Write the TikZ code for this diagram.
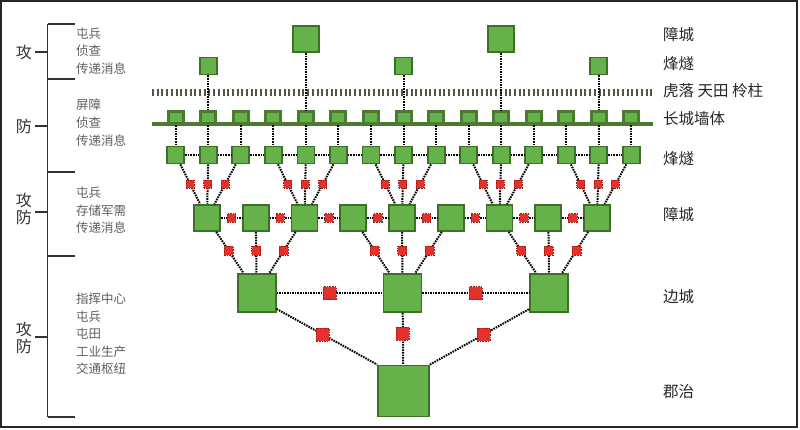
\documentclass[tikz,border=0pt]{standalone}
\usepackage{fontspec}
\setmainfont{Noto Sans CJK SC}
\definecolor{gfill}{HTML}{66B24A}
\definecolor{gborder}{HTML}{3F7029}
\definecolor{rfill}{HTML}{E5312B}
\definecolor{rborder}{HTML}{9E1A16}
\definecolor{wallc}{HTML}{4B7A30}
\definecolor{hlc}{HTML}{4F5746}
\definecolor{lefttext}{HTML}{5E5E5E}
\tikzset{
  gsq/.style={draw=gborder, fill=gfill, line width=1.8pt, minimum size=#1, inner sep=0pt},
  rsq/.style={draw=rborder, fill=rfill, line width=0.7pt, minimum size=#1, inner sep=0pt},
  bumpbox/.style={draw=wallc, fill=gfill, line width=3pt, minimum width=15pt, minimum height=12pt, inner sep=0pt},
  conn/.style={line width=2pt, dash pattern=on 1.6pt off 1pt, black},
  wallline/.style={draw=wallc, line width=3.6pt},
  hline/.style={draw=hlc, line width=7pt, dash pattern=on 2pt off 2.7pt},
  bracket/.style={draw=black!80, line width=1.8pt},
  lefttxt/.style={font=\fontsize{12.5}{17.6}\selectfont, text=lefttext, align=left, anchor=west, inner sep=0pt},
  sidetxt/.style={font=\fontsize{16}{17}\selectfont, text=black!80, align=center, inner sep=0pt},
  righttxt/.style={font=\fontsize{15.5}{18}\selectfont, text=black!85, anchor=west, inner sep=0pt},
}
\begin{document}
\begin{tikzpicture}[x=1pt,y=-1pt]
\useasboundingbox (0,0) rectangle (800,429);
\draw[line width=1.5pt, black!85] (1,1) rectangle (797,427);

% left bracket
\draw[bracket] (47.5,24.3) -- (47.5,416.7);
\foreach \yy in {24.3,79,171.7,255.7,416.7} {\draw[bracket] (47.5,\yy) -- (75,\yy);}
\foreach \yy in {52,126,212,337} {\draw[bracket] (35,\yy) -- (47.5,\yy);}
\node[sidetxt] (la) at (24,52) {攻};
\node[sidetxt] (lb) at (24,126) {防};
\node[sidetxt] (lc) at (24,208.5) {攻\\防};
\node[sidetxt] (ld) at (24,338) {攻\\防};
\node[lefttxt] (ta) at (76,51) {屯兵\\侦查\\传递消息};
\node[lefttxt] (tb) at (76,122.7) {屏障\\侦查\\传递消息};
\node[lefttxt] (tc) at (76,210.5) {屯兵\\存储军需\\传递消息};
\node[lefttxt] (td) at (76,334) {指挥中心\\屯兵\\屯田\\工业生产\\交通枢纽};

% right labels
\node[righttxt] (ra) at (663,35) {障城};
\node[righttxt] (rb) at (663,63.5) {烽燧};
\node[righttxt] (rc) at (663,91) {虎落 天田 柃柱};
\node[righttxt] (rd) at (663,119) {长城墙体};
\node[righttxt] (re) at (663,159) {烽燧};
\node[righttxt] (rf) at (663,215) {障城};
\node[righttxt] (rg) at (663,297) {边城};
\node[righttxt] (rh) at (663,392) {郡治};

% hulu line
\coordinate (hl1) at (152,92.5);
\coordinate (hl2) at (652,92.5);
\draw[hline] (hl1) -- (hl2);

% wall baseline
\coordinate (wl) at (152,123.7);
\coordinate (wr) at (653,123.7);
\draw[wallline] (wl) -- (wr);

% bumps and beacons
\foreach \i in {1,...,15} {
  \pgfmathsetmacro\xx{175.7+(\i-1)*32.55}
  \node[bumpbox] (w\i) at (\xx,117.8) {};
  \node[gsq=17pt] (b\i) at (\xx,155) {};
}
% top squares
\foreach \i in {2,8,14} {\node[gsq=17pt] (s\i) at (w\i |- 0,66) {};}
\foreach \i in {5,11} {\node[gsq=26pt] (s\i) at (w\i |- 0,39) {};}
\foreach \i in {2,5,8,11,14} {\draw[conn] (s\i) -- (w\i.north);}

% bump to beacon
\foreach \i in {1,...,15} {\draw[conn] (w\i.south) -- (b\i);}
\foreach \i [evaluate=\i as \j using int(\i+1)] in {1,...,14} {\draw[conn] (b\i) -- (b\j);}

% zhang cheng row
\foreach \j in {1,...,9} {
  \pgfmathsetmacro\xx{207+(\j-1)*48.75}
  \node[gsq=26pt] (z\j) at (\xx,218) {};
}
\foreach \k in {1,...,5} {
  \pgfmathtruncatemacro\zj{2*\k-1}
  \foreach \d in {2,1,0} {
    \pgfmathtruncatemacro\bi{3*\k-\d}
    \draw[conn] (b\bi) -- node[rsq=8pt] (rb\bi) {} (z\zj);
  }
}
\foreach \j [evaluate=\j as \k using int(\j+1)] in {1,...,8} {
  \draw[conn] (z\j) -- node[rsq=8.5pt] (rz\j) {} (z\k);
}

% bian cheng
\node[gsq=38pt] (c1) at (256.7,293) {};
\node[gsq=38pt] (c2) at (402.5,293) {};
\node[gsq=38pt] (c3) at (549.3,293) {};
\foreach \j in {1,...,9} {
  \pgfmathtruncatemacro\m{int((\j+2)/3)}
  \draw[conn] (z\j) -- node[pos=0.45, rsq=9pt] (rc\j) {} (c\m);
}
\draw[conn] (c1) -- node[rsq=13pt] (rh1) {} (c2);
\draw[conn] (c2) -- node[rsq=13pt] (rh2) {} (c3);

% jun zhi
\node[gsq=51pt] (jz) at (403.5,391) {};
\draw[conn] ([yshift=4pt]c1.south east) -- node[pos=0.46, rsq=13pt] (rj1) {} (jz.north west);
\draw[conn] (c2) -- node[pos=0.4, rsq=13pt] (rj2) {} (jz);
\draw[conn] (jz.north east) -- node[pos=0.54, rsq=13pt] (rj3) {} ([yshift=4pt]c3.south west);
\end{tikzpicture}
\end{document}
